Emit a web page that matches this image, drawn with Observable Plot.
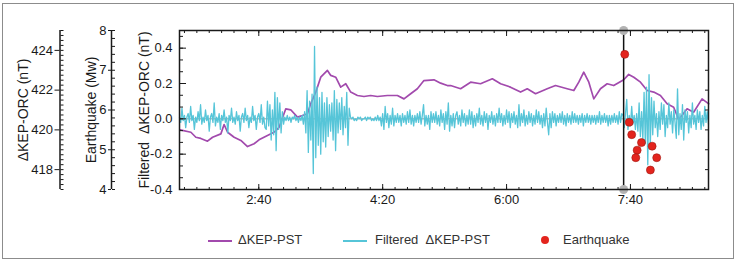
<!DOCTYPE html>
<html>
<head>
<meta charset="utf-8">
<script src="https://cdn.jsdelivr.net/npm/d3@7"></script>
<script src="https://cdn.jsdelivr.net/npm/@observablehq/plot@0.6"></script>
<style>
  html, body { margin: 0; padding: 0; background: #fff; }
  body { width: 736px; height: 266px; position: relative; overflow: hidden;
         font-family: "Liberation Sans", Arial, sans-serif; }
  #chart { position: absolute; left: 0; top: 0; }
  #border { position: absolute; left: 2px; top: 3px; width: 732px; height: 256px;
            border: 1.5px solid #8c8c8c; box-sizing: border-box; pointer-events: none; }
  .lg { position: absolute; font-size: 13px; color: #333; line-height: 16px; top: 232px; white-space: pre; }
  .sw { position: absolute; height: 2px; width: 24px; top: 240px; }
  .dt { position: absolute; width: 8px; height: 8px; border-radius: 50%; top: 236px; left: 541px; background: #e3241d; }
</style>
</head>
<body>
<div id="chart"></div>
<div class="sw" style="left:208px;background:#a24aad"></div>
<div class="lg" style="left:238px">ΔKEP-PST</div>
<div class="sw" style="left:343px;background:#56c5d8"></div>
<div class="lg" style="left:375px">Filtered  ΔKEP-PST</div>
<div class="dt"></div>
<div class="lg" style="left:563px">Earthquake</div>
<div id="border"></div>
<script>
// ---- data (time in minutes of day) ----
const purpleTime = [96.5,105.2,109.2,113.2,118.6,122.7,129.4,132.0,134.8,140.1,145.5,150.9,156.2,160.2,167.0,172.3,176.4,181.8,185.8,191.2,195.2,199.3,201.9,206.0,210.0,215.4,218.1,222.1,226.1,230.2,234.2,239.6,244.9,250.3,255.7,263.8,271.9,277.2,282.6,288.0,293.3,301.4,306.8,312.2,314.8,322.9,331.0,339.0,348.5,355.2,363.2,371.3,376.7,383.4,392.8,399.5,408.9,414.3,418.3,422.3,426.4,430.4,435.8,441.2,446.5,454.6,458.6,462.7,468.1,473.5,478.8,484.2,489.6,494.9,499.0,505.7,511.0,517.8,523.2];
const purpleValue = [420.00,419.88,419.63,419.57,419.43,419.63,419.80,420.27,419.88,419.63,419.47,419.16,419.30,419.50,419.72,419.88,420.13,421.06,421.01,420.64,420.72,420.81,421.31,421.90,422.65,422.99,422.74,422.65,422.15,422.32,421.90,421.73,421.68,421.73,421.68,421.73,421.73,421.56,421.82,422.07,422.48,422.52,422.35,422.23,422.23,422.07,422.40,422.32,422.57,422.32,422.15,421.90,422.07,421.82,422.07,422.23,422.07,421.98,422.40,422.90,422.40,421.56,422.07,422.32,422.23,422.52,422.79,422.65,422.40,421.98,421.90,421.73,421.31,421.14,420.51,421.06,420.89,421.56,421.31];

const filteredStart = 96; // one value per minute, in 0.01 nT
const filteredHundredths = [
  1,-2,6,-1,2,-5,1,3,-2,7,-1,2,-6,1,-2,4,-1,8,-3,1,
  -2,5,-1,2,-7,1,3,-2,9,-4,1,-2,3,-6,2,-1,5,-2,1,-8,
  2,-1,6,-2,1,-3,4,-1,2,-7,1,3,-2,6,-1,2,-5,1,-2,7,
  -1,2,-6,1,3,-2,8,-3,1,-5,
  -6,10,-4,8,-12,5,-9,15,-18,12,-6,9,-8,4,-3,
  1,-1,2,-1,1,-2,1,0,2,-1,1,-2,1,-1,2,-3,4,
  -8,16,-19,10,-12,14,-31,41,-22,18,-15,12,-20,15,-13,9,-16,12,-10,8,-7,9,-12,16,-18,11,-8,9,-6,12,-9,7,-5,15,-15,6,
  1,0,1,-1,0,-1,1,0,1,-1,0,0,1,-1,1,0,1,-1,0,-1,1,-1,2,-1,1,
  -4,3,-6,7,-2,3,-5,2,-3,6,-4,2,-2,3,-2,2,-4,3,-2,2,-3,4,
  -2,5,-3,2,-4,2,-2,3,-2,4,-3,2,8,-4,2,-3,2,-6,4,-2,3,-2,4,-3,2,
  -4,5,-2,3,-6,4,-3,9,-7,2,-4,3,-5,2,4,-3,2,-4,5,-2,3,-4,2,-3,5,
  -3,4,-5,2,-4,3,-2,6,-3,2,-4,4,-2,3,-6,2,-2,4,-3,2,-4,3,-2,6,-2,
  3,-4,2,-3,5,-2,4,-5,3,-2,4,-3,2,-5,8,-4,3,-2,5,-4,2,-3,4,-2,3,
  -4,2,-3,5,-2,4,-3,2,-5,3,-4,6,-2,-9,3,-5,4,-2,3,-4,2,-2,3,-2,4,
  -3,2,-4,3,-2,2,-3,4,-2,3,-2,2,-3,2,-2,3,-4,2,-2,3,-2,2,-3,2,-2,
  2,-3,2,-2,4,-3,2,-2,3,-2,2,-4,2,-3,2,-2,3,-2,2,-3,4,-2,3,
  2,-5,3,11,-6,2,-4,7,-3,2,-6,3,
  -7,9,-10,4,-12,15,-14,18,-26,25,
  -16,12,-9,10,-5,3,-10,4,-6,9,
  -3,8,-10,2,-5,9,-3,4,-8,5,
  -2,-11,17,-9,3,-6,8,-12,5,-2,
  4,-8,2,-5,9,-3,2,-6,5,-2,
  4,-6,2,-4,7,-2,4,-3
];

const quakeTime = [455.4,459.0,461.0,468.9,465.4,464.3,477.5,481.2,476.1];
const quakeMag  = [7.40,5.69,5.38,5.18,4.99,4.80,5.09,4.80,4.49];
const eventTime = 454.5;

const xTickMajor = [160, 260, 360, 460];
const xTickLabels = ["2:40", "4:20", "6:00", "7:40"];
const yTickMajor = [-0.4, -0.2, 0, 0.2, 0.4];
const orcTickMajor = [418, 420, 422, 424];
const magTickMajor = [4, 5, 6, 7, 8];

// ---- scales linking the three left axes ----
const yDomain = [-0.4, 0.5];
const orcDomain = [417, 425];
const magDomain = [4, 8];
const span = yDomain[1] - yDomain[0];
const orcToY = v => yDomain[0] + (v - orcDomain[0]) / (orcDomain[1] - orcDomain[0]) * span;
const yToOrc = y => orcDomain[0] + (y - yDomain[0]) / span * (orcDomain[1] - orcDomain[0]);
const magToY = m => yDomain[0] + (m - magDomain[0]) / (magDomain[1] - magDomain[0]) * span;
const yToMag = y => magDomain[0] + (y - yDomain[0]) / span * (magDomain[1] - magDomain[0]);

const purple = purpleTime.map((t, i) => ({t, y: orcToY(purpleValue[i])}));
const filtered = filteredHundredths.map((v, i) => ({t: filteredStart + i, y: v / 100}));
const quakes = quakeTime.map((t, i) => ({t, y: magToY(quakeMag[i])}));

const xDomain = [96, 523];
const W = 736, H = 215, mL = 179, mR = 28, mT = 30, mB = 26;
const plotW = W - mL - mR, plotH = H - mT - mB;

const xMinor = d3.range(100, 521, 10);
const yMinor = d3.range(-6, 8).map(i => i * 0.2 / 3);
const orcMinor = d3.range(0, 33).map(i => orcToY(417 + i * 0.25));
const magMinor = d3.range(0, 21).map(i => magToY(4 + i * 0.2));
const rightTicks = d3.range(418, 425).map(orcToY);
const blank = () => "";
const ink = "#1a1a1a";
const titleFont = "14px";

const chart = Plot.plot({
  width: W, height: H,
  marginLeft: mL, marginRight: mR, marginTop: mT, marginBottom: mB,
  x: {domain: xDomain},
  y: {domain: yDomain},
  style: {fontFamily: "Liberation Sans, Arial, sans-serif", fontSize: "13px", color: ink, background: "white", overflow: "visible"},
  marks: [
    Plot.ruleY([0], {stroke: "#9a9a9a", strokeWidth: 1}),
    Plot.line(purple, {x: "t", y: "y", stroke: "#a24aad", strokeWidth: 1.7}),
    Plot.line(filtered, {x: "t", y: "y", stroke: "#56c5d8", strokeWidth: 1.3}),
    Plot.ruleX([eventTime], {stroke: "#111", strokeWidth: 1.5}),
    Plot.dot([eventTime], {x: d => d, y: yDomain[1], r: 4.5, fill: "#b3b3b3"}),
    Plot.dot([eventTime], {x: d => d, y: yDomain[0], r: 4.5, fill: "#b3b3b3"}),
    Plot.dot(quakes, {x: "t", y: "y", r: 4, fill: "#e3241d", stroke: "#a01811", strokeWidth: 0.6}),
    Plot.frame({stroke: ink, strokeWidth: 1.5}),
    // x axis labels
    Plot.axisX(xTickMajor, {anchor: "bottom", tickSize: 0, tickPadding: 5, fontSize: 13, tickFormat: d => xTickLabels[xTickMajor.indexOf(d)], label: null, fill: ink}),
    // inward ticks on bottom and top
    Plot.axisX(xTickMajor, {anchor: "top", dy: plotH, tickSize: 6, tickFormat: blank, label: null, stroke: ink}),
    Plot.axisX(xMinor, {anchor: "top", dy: plotH, tickSize: 3, tickFormat: blank, label: null, stroke: ink}),
    Plot.axisX(xTickMajor, {anchor: "bottom", dy: -plotH, tickSize: 6, tickFormat: blank, label: null, stroke: ink}),
    Plot.axisX(xMinor, {anchor: "bottom", dy: -plotH, tickSize: 3, tickFormat: blank, label: null, stroke: ink}),
    // filtered axis (frame left)
    Plot.axisY(yTickMajor, {anchor: "left", tickSize: 0, tickPadding: 7, fontSize: 13, tickFormat: d => d.toFixed(1), label: null, fill: ink}),
    Plot.axisY(yTickMajor, {anchor: "right", dx: -plotW, tickSize: 6, tickFormat: blank, label: null, stroke: ink}),
    Plot.axisY(yMinor, {anchor: "right", dx: -plotW, tickSize: 3, tickFormat: blank, label: null, stroke: ink}),
    // right inward ticks
    Plot.axisY(rightTicks, {anchor: "left", dx: plotW, tickSize: 3, tickFormat: blank, label: null, stroke: ink}),
    // ΔKEP-ORC axis
    Plot.ruleX([xDomain[0]], {dx: -119.5, stroke: ink, strokeWidth: 1.5}),
    Plot.axisY(orcTickMajor.map(orcToY), {anchor: "left", dx: -119.5, tickSize: 5, tickPadding: 2, fontSize: 13, tickFormat: y => String(Math.round(yToOrc(y))), label: null, stroke: ink, fill: ink}),
    Plot.axisY(orcMinor, {anchor: "right", dx: -119.5 - plotW, tickSize: 3, tickFormat: blank, label: null, stroke: ink}),
    // Earthquake axis
    Plot.ruleX([xDomain[0]], {dx: -68, stroke: ink, strokeWidth: 1.5}),
    Plot.axisY(magTickMajor.map(magToY), {anchor: "left", dx: -68, tickSize: 3, tickPadding: 2, fontSize: 13, tickFormat: y => String(Math.round(yToMag(y))), label: null, stroke: ink, fill: ink}),
    Plot.axisY(magMinor, {anchor: "right", dx: -68 - plotW, tickSize: 3, tickFormat: blank, label: null, stroke: ink}),
    // axis titles
    Plot.text(["Filtered\u00a0\u00a0ΔKEP-ORC (nT)"], {frameAnchor: "left", textAnchor: "middle", lineAnchor: "middle", rotate: -90, dx: -35, text: d => d, fontSize: titleFont, fill: ink}),
    Plot.text(["Earthquake (Mw)"], {frameAnchor: "left", textAnchor: "middle", lineAnchor: "middle", rotate: -90, dx: -88, text: d => d, fontSize: titleFont, fill: ink}),
    Plot.text(["ΔKEP-ORC (nT)"], {frameAnchor: "left", textAnchor: "middle", lineAnchor: "middle", rotate: -90, dx: -156, text: d => d, fontSize: titleFont, fill: ink})
  ]
});
document.getElementById("chart").appendChild(chart);
</script>
</body>
</html>
